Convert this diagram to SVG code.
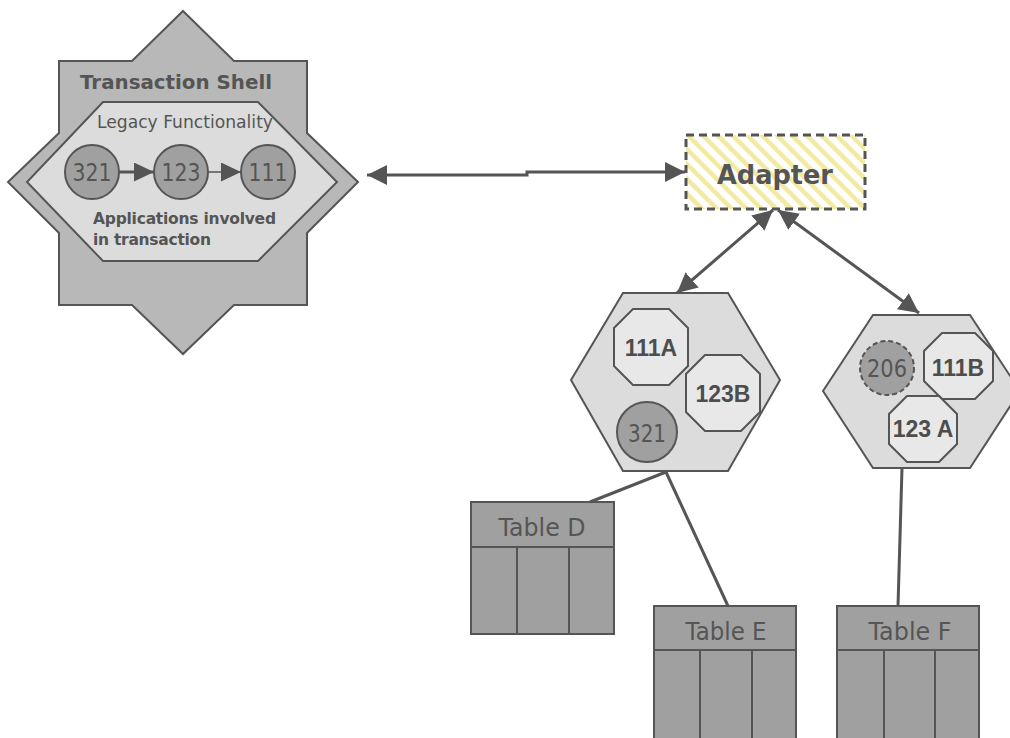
<svg xmlns="http://www.w3.org/2000/svg" width="1010" height="738" viewBox="0 0 1010 738">
<style>
.s{stroke:#555;stroke-width:2;stroke-linejoin:miter}
.star{fill:#b8b8b8}
.hexin{fill:#dcdcdc}
.app{fill:#a0a0a0}
.oct{fill:#e8e8e8}
.tbl{fill:#a0a0a0;stroke:#555;stroke-width:2}
.t{font-family:"DejaVu Sans",Verdana,sans-serif;fill:#555}
.b{font-weight:bold}
.ob{font-family:"Liberation Sans",Arial,sans-serif;font-weight:bold;font-size:23px;fill:#4d4d4d;text-anchor:middle}
.m{text-anchor:middle}
.d{font-size:24px}
.tb{font-size:25px}
.conn{stroke:#555;stroke-width:3;fill:none}
</style>
<defs>
<marker id="ah" viewBox="0 0 20 20" refX="20" refY="10" markerWidth="20" markerHeight="20" markerUnits="userSpaceOnUse" orient="auto-start-reverse">
<path d="M0,0 L20,10 L0,20 z" fill="#555"/>
</marker>
<marker id="ahs" viewBox="0 0 20 19" refX="20" refY="9.5" markerWidth="20" markerHeight="19" markerUnits="userSpaceOnUse" orient="auto">
<path d="M0,0 L20,9.5 L0,19 z" fill="#555"/>
</marker>
<pattern id="hatch" width="10.5" height="10.5" patternUnits="userSpaceOnUse" patternTransform="rotate(-45)">
<rect width="10.5" height="10.5" fill="#fff"/>
<rect width="4.5" height="10.5" fill="#f3eaa2"/>
</pattern>
</defs>

<g id="transaction-shell">
<polygon class="star s" points="183,11 234,61 307,61 307,133 358,182 307,233 307,305 234,305 183,354 132,305 59,305 59,233 8,182 59,133 59,61 132,61"/>
<text class="t b m" x="176" y="89" font-size="19.5" textLength="192" lengthAdjust="spacingAndGlyphs">Transaction Shell</text>
</g>

<g id="legacy-functionality">
<polygon class="hexin s" points="103,102 258,102 337,182 258,261 103,261 27,182"/>
<text class="t m" x="185" y="128" font-size="17.5" textLength="176" lengthAdjust="spacingAndGlyphs">Legacy Functionality</text>
<text class="t b" x="93" y="224" font-size="15.5" textLength="183" lengthAdjust="spacing">Applications involved</text>
<text class="t b" x="93" y="245" font-size="15.5" textLength="118" lengthAdjust="spacing">in transaction</text>
</g>

<g id="app-321">
<circle class="app s" cx="92" cy="172" r="27"/>
<text class="t m d" x="92" y="181" textLength="39" lengthAdjust="spacingAndGlyphs">321</text>
</g>
<g id="app-123">
<circle class="app s" cx="181" cy="172" r="27"/>
<text class="t m d" x="181" y="181" textLength="39" lengthAdjust="spacingAndGlyphs">123</text>
</g>
<g id="app-111">
<circle class="app s" cx="268" cy="172" r="27"/>
<text class="t m d" x="268" y="181" textLength="39" lengthAdjust="spacingAndGlyphs">111</text>
</g>

<g id="adapter">
<rect x="686" y="135" width="179" height="74" fill="url(#hatch)" stroke="#555" stroke-width="3" stroke-dasharray="8,5"/>
<text class="t b m" x="775" y="184" font-size="27" textLength="116" lengthAdjust="spacingAndGlyphs">Adapter</text>
</g>

<g id="hex-1">
<polygon class="hexin s" points="623,293 728,293 780,380 728,471 623,471 571,380"/>
</g>
<g id="app-111A">
<polygon class="oct s" points="633,309 669,309 688,328 688,366 669,385 633,385 614,366 614,328"/>
<text class="ob" x="651" y="356">111A</text>
</g>
<g id="app-123B">
<polygon class="oct s" points="705,355 741,355 760,374 760,412 741,431 705,431 686,412 686,374"/>
<text class="ob" x="723" y="402">123B</text>
</g>
<g id="app-321b">
<circle class="app s" cx="647" cy="432" r="30"/>
<text class="t m d" x="647" y="442" textLength="38" lengthAdjust="spacingAndGlyphs">321</text>
</g>

<g id="hex-2">
<polygon class="hexin s" points="873,315 970,315 1020,391 970,468 873,468 823,391"/>
</g>
<g id="app-206">
<circle class="app" cx="887" cy="368" r="27" stroke="#555" stroke-width="2" stroke-dasharray="5,3"/>
<text class="t m d" x="887" y="377" textLength="40" lengthAdjust="spacingAndGlyphs">206</text>
</g>
<g id="app-111B">
<polygon class="oct s" points="942,333 975,333 993,351 993,381 975,399 942,399 924,381 924,351"/>
<text class="ob" x="958" y="376">111B</text>
</g>
<g id="app-123A">
<polygon class="oct s" points="907,396 939,396 957,414 957,444 939,462 907,462 889,444 889,414"/>
<text class="ob" x="923" y="437">123 A</text>
</g>

<g id="table-d">
<rect class="tbl" x="471" y="502" width="143" height="132"/>
<path class="tbl" d="M471,547 H614 M517,547 V634 M569,547 V634"/>
<text class="t m tb" x="542" y="536" textLength="87" lengthAdjust="spacingAndGlyphs">Table D</text>
</g>
<g id="table-e">
<rect class="tbl" x="654" y="606" width="142" height="140"/>
<path class="tbl" d="M654,650 H796 M700,650 V746 M752,650 V746"/>
<text class="t m tb" x="726" y="640" textLength="81" lengthAdjust="spacingAndGlyphs">Table E</text>
</g>
<g id="table-f">
<rect class="tbl" x="837" y="606" width="142" height="140"/>
<path class="tbl" d="M837,650 H979 M884,650 V746 M935,650 V746"/>
<text class="t m tb" x="910" y="640" textLength="83" lengthAdjust="spacingAndGlyphs">Table F</text>
</g>

<g id="connectors">
<path class="conn" d="M119,172 H154" stroke-width="2" marker-end="url(#ahs)"/>
<path d="M208,172 H241" stroke="#555" stroke-width="1.5" fill="none" marker-end="url(#ahs)"/>
<path class="conn" d="M367,175 H527 V172 H685" marker-start="url(#ah)" marker-end="url(#ah)"/>
<path class="conn" d="M677,293 L773,210" marker-start="url(#ah)" marker-end="url(#ah)"/>
<path class="conn" d="M778,210 L919,313" marker-start="url(#ah)" marker-end="url(#ah)"/>
<path class="conn" d="M666,472 L590,502"/>
<path class="conn" d="M666,472 L728,606"/>
<path class="conn" d="M902,468 L898,606"/>
</g>
</svg>
